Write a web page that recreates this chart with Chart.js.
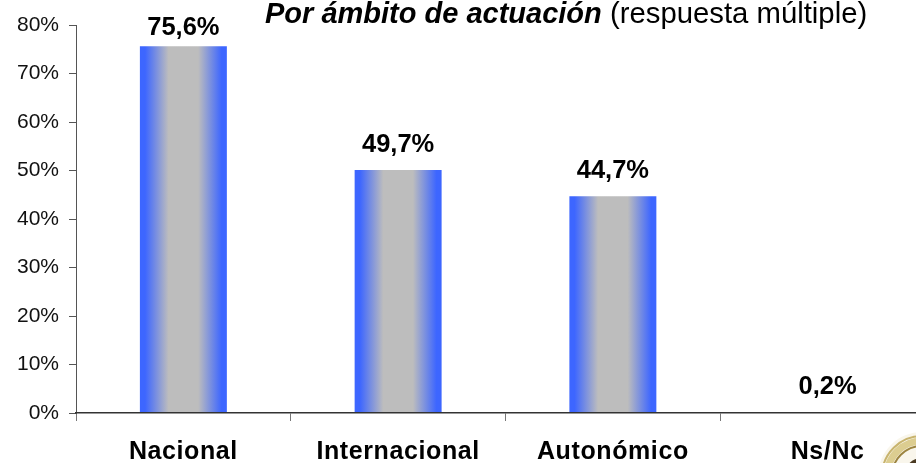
<!DOCTYPE html>
<html><head><meta charset="utf-8">
<style>html,body{margin:0;padding:0;background:#fff;overflow:hidden;width:916px;height:463px}canvas{display:block}</style>
<script src="https://cdn.jsdelivr.net/npm/chart.js@4/dist/chart.umd.min.js"></script>
</head><body><canvas id="c" width="935" height="463"></canvas>
<script>
const categories=["Nacional","Internacional","Autonómico","Ns/Nc"];
const values=[75.6,50.1,44.7,0.2];
const valueLabels=["75,6%","49,7%","44,7%","0,2%"];
const yTicks=[0,10,20,30,40,50,60,70,80];
const titleBold="Por ámbito de actuación";
const titleRest=" (respuesta múltiple)";
const FONT='"Liberation Sans", Arial, sans-serif';
const blue="#3d66ff",grey="#bdbdbd";

const overlay={id:"overlay",
 beforeDraw(chart){
  const x=chart.scales.x,ctx=chart.ctx;
  if(!x._spaced){x._spaced=true;const o=x.drawLabels;
    x.drawLabels=function(a){ctx.letterSpacing="0.6px";o.call(this,a);ctx.letterSpacing="0px";};}
 },
 afterDatasetsDraw(chart){
  const {ctx}=chart;const meta=chart.getDatasetMeta(0);
  ctx.save();ctx.fillStyle="#000";ctx.textAlign="center";ctx.textBaseline="middle";
  ctx.font='bold 25.5px '+FONT;
  meta.data.forEach((b,i)=>{ctx.fillText(valueLabels[i],b.x,Math.max(b.y-25,28));});
  ctx.textAlign="left";ctx.textBaseline="alphabetic";
  ctx.font='italic bold 29px '+FONT;
  ctx.fillText(titleBold,265,23);
  const w=ctx.measureText(titleBold).width;
  ctx.font='29.3px '+FONT;
  ctx.fillText(titleRest,265+w,23);
  // seal in the lower right corner
  const sx=922,sy=476;
  ctx.fillStyle="#f9f6ec";ctx.beginPath();ctx.arc(sx,sy,44,0,Math.PI*2);ctx.fill();
  ctx.lineWidth=2;ctx.strokeStyle="#c8b46e";ctx.beginPath();ctx.arc(sx,sy,40,0,Math.PI*2);ctx.stroke();
  ctx.lineWidth=7;ctx.strokeStyle="#dccd90";ctx.beginPath();ctx.arc(sx,sy,35,0,Math.PI*2);ctx.stroke();
  ctx.lineWidth=2;ctx.strokeStyle="#9c8440";ctx.beginPath();ctx.arc(sx,sy,30,0,Math.PI*2);ctx.stroke();
  ctx.fillStyle="#4a3a22";ctx.beginPath();ctx.arc(sx,sy,18,0,Math.PI*2);ctx.fill();
  ctx.restore();
 }};

new Chart(document.getElementById("c"),{
  type:"bar",
  data:{labels:categories,datasets:[{data:values,barPercentage:0.405,categoryPercentage:1,
    backgroundColor(c){
      const ch=c.chart,x=ch.scales.x;
      if(!x||c.dataIndex===undefined)return blue;
      const cx=x.getPixelForValue(c.dataIndex),hw=x.width/categories.length*0.405/2;
      if(!isFinite(cx)||!isFinite(hw))return blue;
      const g=ch.ctx.createLinearGradient(cx-hw,0,cx+hw,0);
      g.addColorStop(0,blue);g.addColorStop(0.06,blue);g.addColorStop(0.33,grey);g.addColorStop(0.67,grey);g.addColorStop(0.94,blue);g.addColorStop(1,blue);
      return g;
    }}]},
  options:{responsive:false,animation:false,
    layout:{padding:{left:0,right:0,top:25,bottom:0}},
    plugins:{legend:{display:false},tooltip:{enabled:false}},
    scales:{
      x:{afterFit(s){s.height=50;},
         grid:{display:true,drawOnChartArea:false,drawTicks:true,tickLength:8,color:"#777",offset:true},
         border:{color:"#333",width:1.5,z:1},
         ticks:{color:"#000",font:{family:FONT,size:25,weight:"bold"},padding:16,maxRotation:0,autoSkip:false}},
      y:{min:0,max:80,afterBuildTicks(s){s.ticks=yTicks.map(v=>({value:v}));},
         afterFit(s){s.width=76;},
         grid:{drawOnChartArea:false,tickLength:7,color:"#555"},
         border:{color:"#555",width:1},
         ticks:{color:"#111",font:{family:FONT,size:21},padding:10,callback:v=>v+"%"}}
    }},
  plugins:[overlay]
});
</script></body></html>
